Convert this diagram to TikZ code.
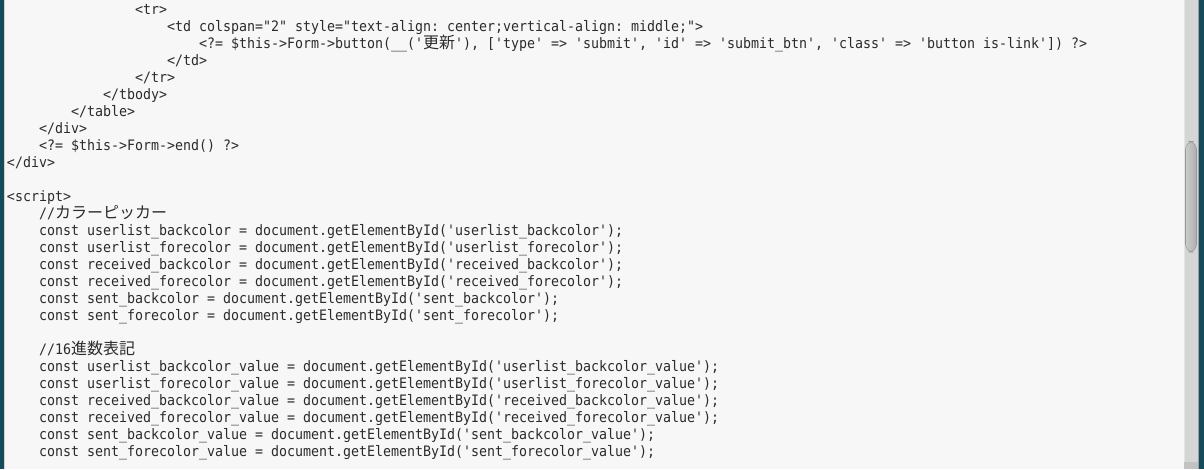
\documentclass[tikz,border=0pt]{standalone}
\usepackage{fontspec}
\setmonofont[FakeStretch=0.923]{DejaVu Sans Mono}
\newfontfamily\jpfont{Noto Sans CJK JP}
\definecolor{editorbg}{HTML}{F7F7F7}
\definecolor{codetext}{HTML}{2B2B2B}
\definecolor{framecol}{HTML}{154B5A}
\definecolor{trackcol}{HTML}{D5D5D5}
\definecolor{thumbedge}{HTML}{979797}
\tikzset{codeline/.style = {anchor=base west, inner sep=0pt, outer sep=0pt, text=codetext,
                            font=\ttfamily\fontsize{10.8pt}{12.75pt}\selectfont}}
\newcommand{\jp}[1]{{\jpfont\fontsize{12pt}{12pt}\selectfont #1}}
\frenchspacing

\begin{document}
\begin{tikzpicture}[x=0.75pt, y=-0.75pt]
      \fill [editorbg] (0, 0) rectangle (1204, 469);
      \useasboundingbox (0, 0) rectangle (1204, 469);
      % window frame and scroll bar
      \fill [framecol] (0, 0) rectangle (4, 469);
      \fill [black!18] (4, 0) rectangle (5, 469);
      \fill [trackcol] (1184, 0) rectangle (1198, 469);
      \fill [black!10] (1184, 0) rectangle (1185, 469);
      \fill [black!38] (1198, 0) rectangle (1199, 469);
      \fill [framecol] (1199, 0) rectangle (1204, 469);
      \fill [black!24] (1184, 462) rectangle (1198, 469);
      \draw [thumbedge, rounded corners=6, left color=black!20, right color=black!32] (1185.5, 141.5) rectangle (1196.5, 252);
      % code
      \node [codeline] (trOpen) at (135, 14.5) {<tr>};
      \node [codeline] (tdOpen) at (167, 31.5) {<td colspan="2" style="text-align: center;vertical-align: middle;">};
      \node [codeline] (btnLine) at (199, 48.5) {<?= \$this->Form->button(\_\_('\jp{更新}'), ['type' => 'submit', 'id' => 'submit\_btn', 'class' => 'button is-link']) ?>};
      \node [codeline] (tdClose) at (167, 65.5) {</td>};
      \node [codeline] (trClose) at (135, 82.5) {</tr>};
      \node [codeline] (tbodyClose) at (103, 99.5) {</tbody>};
      \node [codeline] (tableClose) at (71, 116.5) {</table>};
      \node [codeline] (divClose) at (39, 133.5) {</div>};
      \node [codeline] (formEnd) at (39, 150.5) {<?= \$this->Form->end() ?>};
      \node [codeline] (outerDivClose) at (7, 167.5) {</div>};
      \node [codeline] (scriptOpen) at (7, 201.5) {<script>};
      \node [codeline] (pickerNote) at (39, 218.5) {//\jp{カラーピッカー}};
      \node [codeline] (ulBack) at (39, 235.5) {const userlist\_backcolor = document.getElementById('userlist\_backcolor');};
      \node [codeline] (ulFore) at (39, 252.5) {const userlist\_forecolor = document.getElementById('userlist\_forecolor');};
      \node [codeline] (rcvBack) at (39, 269.5) {const received\_backcolor = document.getElementById('received\_backcolor');};
      \node [codeline] (rcvFore) at (39, 286.5) {const received\_forecolor = document.getElementById('received\_forecolor');};
      \node [codeline] (sentBack) at (39, 303.5) {const sent\_backcolor = document.getElementById('sent\_backcolor');};
      \node [codeline] (sentFore) at (39, 320.5) {const sent\_forecolor = document.getElementById('sent\_forecolor');};
      \node [codeline] (hexNote) at (39, 354.5) {//16\jp{進数表記}};
      \node [codeline] (ulBackVal) at (39, 371.5) {const userlist\_backcolor\_value = document.getElementById('userlist\_backcolor\_value');};
      \node [codeline] (ulForeVal) at (39, 388.5) {const userlist\_forecolor\_value = document.getElementById('userlist\_forecolor\_value');};
      \node [codeline] (rcvBackVal) at (39, 405.5) {const received\_backcolor\_value = document.getElementById('received\_backcolor\_value');};
      \node [codeline] (rcvForeVal) at (39, 422.5) {const received\_forecolor\_value = document.getElementById('received\_forecolor\_value');};
      \node [codeline] (sentBackVal) at (39, 439.5) {const sent\_backcolor\_value = document.getElementById('sent\_backcolor\_value');};
      \node [codeline] (sentForeVal) at (39, 456.5) {const sent\_forecolor\_value = document.getElementById('sent\_forecolor\_value');};
    \end{tikzpicture}
\end{document}
